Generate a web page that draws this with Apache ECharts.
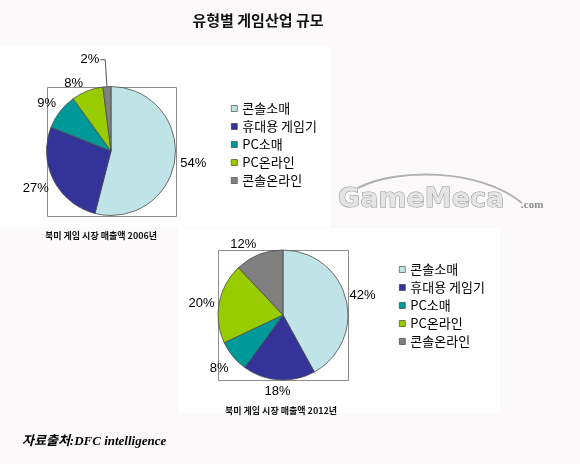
<!DOCTYPE html>
<html>
<head>
<meta charset="utf-8">
<script src="https://cdn.jsdelivr.net/npm/echarts@6/dist/echarts.min.js"></script>
<style>html,body{margin:0;padding:0;background:#fcf9fb;}#chart{width:580px;height:464px;}</style>
</head>
<body>
<div id="chart"></div>
<script>
// ---- data ----
const chartTitle = '유형별 게임산업 규모';
const categories = ['콘솔소매', '휴대용 게임기', 'PC소매', 'PC온라인', '콘솔온라인'];
const share2006 = [54, 27, 9, 8, 2];
const share2012 = [42, 18, 8, 20, 12];
const caption2006 = '북미 게임 시장 매출액 2006년';
const caption2012 = '북미 게임 시장 매출액 2012년';
const sourceText = '자료출처:DFC intelligence';

// ---- style ----
const colors = ['#bfe3e6', '#333399', '#009999', '#99cc00', '#808080'];
const pie1 = { cx: 111, cy: 151, r: 64.5 };
const pie2 = { cx: 283, cy: 315, r: 65 };
const labelFont = { fontFamily: '"Liberation Sans", Arial, sans-serif', fontSize: 13, color: '#000' };
const GAP = 3;
const nudge1 = [[2.5, 3], [-3.4, 3.9], [-3.5, -2.2], [-9, 1.3], null];
const nudge2 = [[1, -0.8], [-0.4, 2.3], [-4.2, 5.6], [-2, 2.5], [-10, -1]];

function makeLayout(nudges) {
  return function (p) {
    const n = nudges[p.dataIndex];
    const pts = p.labelLinePoints;
    if (!n || !pts) return {};
    const p1 = pts[0], p2 = pts[1];
    let dx = p2[0] - p1[0], dy = p2[1] - p1[1];
    const len = Math.hypot(dx, dy) || 1;
    dx /= len; dy /= len;
    const w = p.labelRect.width, h = p.labelRect.height;
    return {
      x: p1[0] + dx * (GAP + w / 2) + n[0],
      y: p1[1] + dy * (GAP + h / 2) + n[1],
      align: 'center',
      verticalAlign: 'middle'
    };
  };
}

function buildData(values, special) {
  return categories.map((name, i) => {
    const item = { name: name, value: values[i] };
    if (special && special[i]) Object.assign(item, special[i]);
    return item;
  });
}

function pieSeries(geom, values, nudges, special) {
  return {
    type: 'pie',
    center: [geom.cx, geom.cy],
    radius: geom.r,
    startAngle: 90,
    clockwise: true,
    avoidLabelOverlap: false,
    animation: false,
    emphasis: { scale: false },
    itemStyle: { borderColor: '#4a4a4a', borderWidth: 0.8 },
    label: Object.assign({ show: true, position: 'outside', formatter: '{c}%', distanceToLabelLine: 1 }, labelFont),
    labelLine: { show: true, length: 10, length2: 0, lineStyle: { opacity: 0 } },
    labelLayout: makeLayout(nudges),
    data: buildData(values, special)
  };
}

function legendFor(left, top) {
  return {
    orient: 'vertical',
    left: left,
    top: top,
    padding: 0,
    itemGap: 5,
    itemWidth: 6,
    itemHeight: 6,
    icon: 'rect',
    data: categories,
    itemStyle: { borderColor: '#333', borderWidth: 0.6 },
    textStyle: { fontFamily: '"Noto Sans CJK KR", sans-serif', fontSize: 13, lineHeight: 13, color: '#000' }
  };
}

function frame(g) {
  return {
    type: 'rect', z: 0,
    shape: { x: Math.round(g.cx - g.r) + 0.5, y: Math.round(g.cy - g.r) + 0.5, width: Math.round(2 * g.r), height: Math.round(2 * g.r) },
    style: { fill: null, stroke: '#8c8c8c', lineWidth: 1 }
  };
}

const chart = echarts.init(document.getElementById('chart'), null, { renderer: 'canvas' });
chart.setOption({
  backgroundColor: '#fcf9fb',
  animation: false,
  color: colors,
  legend: [legendFor(231, 102), legendFor(399, 263)],
  graphic: [
    { type: 'rect', z: -10, shape: { x: 0, y: 46, width: 330, height: 181 }, style: { fill: '#ffffff' } },
    { type: 'rect', z: -10, shape: { x: 178, y: 228, width: 322, height: 185 }, style: { fill: '#ffffff' } },
    frame(pie1),
    frame(pie2),
    { type: 'text', x: 258, y: 20, style: { text: chartTitle, align: 'center', verticalAlign: 'middle', font: 'bold 15px "Noto Sans CJK KR", sans-serif', fill: '#111' } },
    { type: 'text', x: 101, y: 236, style: { text: caption2006, align: 'center', verticalAlign: 'middle', font: 'bold 9px "Noto Sans CJK KR", sans-serif', fill: '#111' } },
    { type: 'text', x: 281, y: 411, style: { text: caption2012, align: 'center', verticalAlign: 'middle', font: 'bold 9px "Noto Sans CJK KR", sans-serif', fill: '#111' } },
    { type: 'text', x: 22, y: 442, style: { text: sourceText, align: 'left', verticalAlign: 'middle', font: 'italic bold 13px "Liberation Serif", "Noto Sans CJK KR", serif', fill: '#000' } },
    { type: 'bezierCurve', z: -5, shape: { x1: 358, y1: 188, cpx1: 395, cpy1: 168, cpx2: 480, cpy2: 168, x2: 522, y2: 203 }, style: { stroke: '#b0b0b0', lineWidth: 2, fill: null } },
    { type: 'text', z: -5, x: 338, y: 200, style: { text: 'GameMeca', align: 'left', verticalAlign: 'middle', font: 'bold 27px "DejaVu Sans", sans-serif', fill: '#e4e4e4', stroke: '#8f8f8f', lineWidth: 1 } },
    { type: 'text', z: -5, x: 521, y: 205, style: { text: '.com', align: 'left', verticalAlign: 'middle', font: 'bold 11px "Liberation Serif", serif', fill: '#8a8a8a' } }
  ],
  series: [
    pieSeries(pie1, share2006, nudge1, {
      4: { labelLine: { length: 27, length2: 5, lineStyle: { opacity: 1, color: '#555', width: 1 } } }
    }),
    pieSeries(pie2, share2012, nudge2, null)
  ]
});
</script>
</body>
</html>
